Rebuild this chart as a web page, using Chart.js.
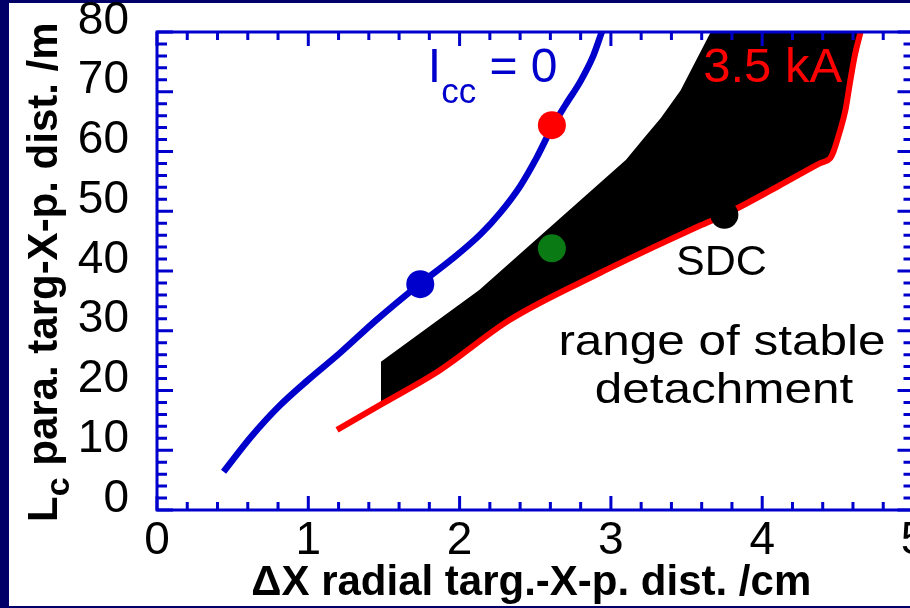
<!DOCTYPE html>
<html>
<head>
<meta charset="utf-8">
<script src="https://cdn.jsdelivr.net/npm/chart.js@4.4.1/dist/chart.umd.min.js"></script>
<style>
html, body { margin: 0; padding: 0; overflow: hidden; width: 910px; height: 608px; background: #000068; }
#paper { position: absolute; left: 9px; top: 3px; width: 930px; height: 603px; background: #fff; }
#wrap { position: absolute; left: 0; top: 0; }
</style>
</head>
<body>
<div id="paper"></div>
<div id="wrap"><canvas id="myChart" width="930" height="608"></canvas></div>
<script>
// I_cc = 0 curve
var iccX = [0.44, 0.62, 0.80, 1.00, 1.21, 1.45, 1.72, 1.95, 2.14, 2.27, 2.40, 2.51, 2.61, 2.70, 2.80, 2.88, 2.94];
var iccY = [6.4, 12.2, 17.2, 21.8, 26.3, 31.8, 37.5, 42.0, 46.2, 49.8, 54.2, 59.0, 64.0, 67.8, 71.8, 75.8, 80];

// 3.5 kA curve
var kaX = [1.19, 1.49, 1.87, 2.33, 2.93, 3.30, 3.59, 3.75, 4.10, 4.38, 4.45, 4.47, 4.51, 4.55, 4.58, 4.61, 4.65];
var kaY = [13.4, 17.8, 23.4, 31.8, 39.7, 44.2, 47.6, 49.4, 54.1, 58.0, 58.9, 59.9, 63.1, 66.9, 71.5, 75.8, 80];

// upper edge of the stable detachment range (filled down to the 3.5 kA curve)
var edgeX = [1.48, 2.13, 3.10, 3.22, 3.33, 3.46, 3.66, 4.65];
var edgeY = [24.8, 36.8, 58.6, 62.3, 65.6, 70.2, 80, 80];

// marked points
var dotX = [1.74, 2.61, 2.61, 3.75];
var dotY = [37.8, 64.4, 43.8, 49.4];
var dotColors = ["#0000cc", "#ff0000", "#0a7a14", "#000000"];

var blue = "#0000cc";
var family = "'Liberation Sans', Arial, Helvetica, sans-serif";

function pts(xs, ys) {
    var out = [];
    for (var i = 0; i < xs.length; i++) out.push({x: xs[i], y: ys[i]});
    return out;
}

function runs(ctx, x, y, parts) {
    for (var i = 0; i < parts.length; i++) {
        var p = parts[i];
        ctx.font = p.font;
        ctx.fillText(p.t, x, y + (p.dy || 0));
        x += ctx.measureText(p.t).width;
    }
}

// box with inward ticks on all four sides
var frame = {
    id: "frame",
    afterDatasetsDraw: function(chart) {
        var ctx = chart.ctx, a = chart.chartArea;
        var xs = chart.scales.x, ys = chart.scales.y;
        ctx.save();
        ctx.strokeStyle = blue;
        ctx.lineWidth = 3;
        ctx.strokeRect(a.left, a.top, a.right - a.left, a.bottom - a.top);
        ctx.beginPath();
        for (var i = 0; i <= 25; i++) {
            var px = xs.getPixelForValue(i / 5);
            var len = i % 5 === 0 ? 14 : 8;
            ctx.moveTo(px, a.bottom); ctx.lineTo(px, a.bottom - len);
            ctx.moveTo(px, a.top); ctx.lineTo(px, a.top + len);
        }
        for (var j = 0; j <= 40; j++) {
            var py = ys.getPixelForValue(j * 2);
            var len2 = j % 5 === 0 ? 16 : 10;
            ctx.moveTo(a.left, py); ctx.lineTo(a.left + len2, py);
            ctx.moveTo(a.right, py); ctx.lineTo(a.right - len2, py);
        }
        ctx.stroke();
        ctx.restore();
    }
};

// titles and labels inside the plot
var labels = {
    id: "labels",
    afterDraw: function(chart) {
        var ctx = chart.ctx, a = chart.chartArea;
        var xs = chart.scales.x, ys = chart.scales.y;
        ctx.save();
        ctx.textBaseline = "alphabetic";

        // x axis title
        ctx.fillStyle = "#000";
        ctx.textAlign = "center";
        ctx.font = "bold 42px " + family;
        ctx.fillText("\u0394X radial targ.-X-p. dist. /cm", (a.left + a.right) / 2 - 4, chart.height - 13);

        // y axis title with subscript
        ctx.textAlign = "left";
        ctx.save();
        ctx.translate(57, 522);
        ctx.rotate(-Math.PI / 2);
        runs(ctx, 0, 0, [
            {t: "L", font: "bold 42px " + family},
            {t: "c", font: "bold 34px " + family, dy: 12},
            {t: " para. targ-X-p. dist. /m", font: "bold 42px " + family}
        ]);
        ctx.restore();

        // I_cc = 0
        ctx.fillStyle = blue;
        runs(ctx, xs.getPixelForValue(1.79), ys.getPixelForValue(71.6), [
            {t: "I", font: "48px " + family},
            {t: "cc", font: "35px " + family, dy: 21},
            {t: " = 0", font: "48px " + family}
        ]);

        // 3.5 kA
        ctx.fillStyle = "#ff0000";
        ctx.font = "49px " + family;
        ctx.fillText("3.5 kA", xs.getPixelForValue(3.61), ys.getPixelForValue(71.6));

        // SDC
        ctx.fillStyle = "#000";
        ctx.font = "43px " + family;
        ctx.fillText("SDC", xs.getPixelForValue(3.43), ys.getPixelForValue(39.3));

        // range of stable detachment (slightly wide lettering)
        ctx.font = "43px " + family;
        ctx.textAlign = "center";
        var lines = [["range of stable", 3.734, 25.9], ["detachment", 3.747, 17.9]];
        for (var k = 0; k < lines.length; k++) {
            ctx.save();
            ctx.translate(xs.getPixelForValue(lines[k][1]), ys.getPixelForValue(lines[k][2]));
            ctx.scale(1.15, 1);
            ctx.fillText(lines[k][0], 0, 0);
            ctx.restore();
        }
        ctx.restore();
    }
};

Chart.defaults.font.family = family;

var chart = new Chart(document.getElementById("myChart").getContext("2d"), {
    type: "scatter",
    data: {
        datasets: [
            {
                label: "points",
                data: pts(dotX, dotY),
                pointRadius: 14,
                pointBackgroundColor: dotColors,
                pointBorderWidth: 0,
                showLine: false
            },
            {
                label: "Icc = 0",
                data: pts(iccX, iccY),
                showLine: true,
                borderColor: blue,
                borderWidth: 6.5,
                pointRadius: 0,
                cubicInterpolationMode: "monotone"
            },
            {
                label: "3.5 kA",
                data: pts(kaX, kaY),
                showLine: true,
                borderColor: "#ff0000",
                borderWidth: 6,
                pointRadius: 0,
                cubicInterpolationMode: "monotone"
            },
            {
                label: "range of stable detachment",
                data: pts(edgeX, edgeY),
                showLine: true,
                borderWidth: 0,
                borderColor: "rgba(0,0,0,0)",
                backgroundColor: "#000",
                pointRadius: 0,
                tension: 0,
                fill: {target: 2, above: "#000", below: "#000"}
            }
        ]
    },
    options: {
        responsive: false,
        animation: false,
        events: [],
        devicePixelRatio: 1,
        layout: {padding: {left: 0, top: 32, right: 16.5, bottom: 0}},
        plugins: {legend: {display: false}, tooltip: {enabled: false}},
        scales: {
            x: {
                type: "linear",
                min: 0, max: 5,
                grid: {display: false},
                border: {display: false},
                ticks: {stepSize: 1, color: "#000", font: {size: 46}, padding: -4, maxRotation: 0, autoSkip: false},
                afterFit: function(scale) {
                    scale.height = 98;
                    scale.paddingLeft = 0;
                    scale.paddingRight = 0;
                }
            },
            y: {
                type: "linear",
                min: 0, max: 80,
                grid: {display: false},
                border: {display: false},
                ticks: {stepSize: 10, color: "#000", font: {size: 46}, padding: 20, labelOffset: -11, autoSkip: false},
                afterFit: function(scale) {
                    scale.width = 157;
                    scale.paddingTop = 0;
                    scale.paddingBottom = 0;
                }
            }
        }
    },
    plugins: [frame, labels]
});
</script>
</body>
</html>
